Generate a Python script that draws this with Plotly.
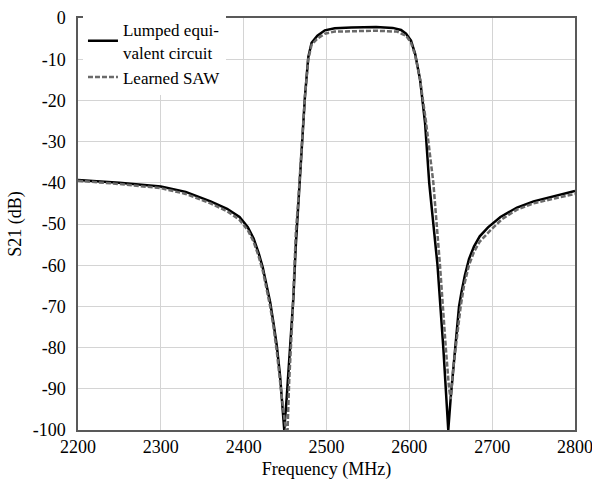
import plotly.graph_objects as go

# Lumped equivalent circuit (solid black)
f_lumped = [2200, 2250, 2300, 2330, 2360, 2380, 2395, 2405, 2412, 2418, 2423, 2428, 2432, 2436, 2440,
            2444, 2447, 2449, 2452, 2456, 2460, 2463, 2466, 2470, 2474, 2478, 2482, 2489, 2498, 2510,
            2530, 2560, 2580, 2590, 2596, 2602, 2607, 2613, 2619, 2624, 2629, 2634, 2641, 2644, 2647,
            2650, 2653, 2656, 2660, 2663, 2667, 2672, 2678, 2685, 2695, 2710, 2730, 2750, 2775, 2800]
s21_lumped = [-39.3, -40.0, -40.9, -42.2, -44.5, -46.3, -48.3, -50.8, -53.5, -57.0, -60.5, -65.0, -69.0, -74.0, -79.5,
              -87.0, -94.0, -100.0, -92.0, -80.0, -68.0, -55.0, -45.0, -32.0, -19.0, -9.5, -6.0, -4.3, -3.0, -2.5,
              -2.3, -2.2, -2.4, -2.9, -3.8, -5.5, -8.7, -15.0, -25.5, -40.0, -50.0, -60.0, -80.0, -90.0, -100.0,
              -92.0, -85.0, -78.0, -70.0, -66.5, -62.5, -58.5, -55.5, -53.0, -50.8, -48.3, -46.0, -44.5, -43.2, -42.0]

# Learned SAW (dashed gray)
f_saw = [2200, 2250, 2300, 2330, 2360, 2380, 2395, 2405, 2412, 2418, 2423, 2428, 2432, 2436, 2440,
         2446, 2451, 2453, 2455, 2459, 2463, 2466, 2470, 2474, 2478, 2482, 2489, 2498, 2510, 2560,
         2585, 2596, 2602, 2607, 2613, 2620, 2629, 2637, 2644, 2648, 2650, 2653, 2656, 2662, 2666,
         2672, 2678, 2685, 2698, 2712, 2730, 2750, 2775, 2800]
s21_saw = [-39.5, -40.3, -41.3, -42.7, -45.0, -46.9, -49.0, -51.5, -54.3, -57.8, -61.3, -66.0, -70.0, -75.0, -81.0,
           -92.0, -100.0, -100.0, -88.0, -72.0, -52.0, -44.0, -31.0, -19.0, -10.0, -6.5, -5.0, -3.8, -3.3, -3.1,
           -3.3, -4.3, -6.0, -9.0, -15.0, -25.0, -40.0, -60.0, -80.0, -90.0, -92.5, -85.0, -80.0, -70.0, -65.0,
           -60.0, -56.8, -54.3, -51.5, -48.8, -46.5, -45.0, -43.8, -42.7]

x_ticks = [2200, 2300, 2400, 2500, 2600, 2700, 2800]
y_ticks = [0, -10, -20, -30, -40, -50, -60, -70, -80, -90, -100]

FONT = "Liberation Serif"
FS = 18

fig = go.Figure()
fig.add_trace(go.Scatter(x=f_lumped, y=s21_lumped, mode="lines",
                         name="Lumped equi-<br>valent circuit",
                         line=dict(color="black", width=2.5)))
fig.add_trace(go.Scatter(x=f_saw, y=s21_saw, mode="lines",
                         name="Learned SAW",
                         line=dict(color="#6a6a6a", width=2.5, dash="5px,2px")))

axis_common = dict(showgrid=True, gridcolor="#d4d4d4", gridwidth=1.3,
                   showline=True, linecolor="#595959", linewidth=1.5, mirror=True,
                   ticks="", zeroline=False, automargin=False,
                   ticklabeloverflow="allow",
                   tickfont=dict(family=FONT, size=FS, color="black"),
                   title_font=dict(family=FONT, size=FS, color="black"))

fig.update_xaxes(range=[2200, 2800], tickvals=x_ticks, ticktext=[str(v) for v in x_ticks],
                 title_text="Frequency (MHz)", title_standoff=6, ticklabelstandoff=0, **axis_common)
fig.update_yaxes(range=[-100, 0], tickvals=y_ticks, ticktext=[str(v) for v in y_ticks],
                 title_text="S21 (dB)", title_standoff=6, ticklabelstandoff=7, **axis_common)

fig.update_layout(
    width=592, height=487,
    margin=dict(l=78, r=17, t=14, b=57),
    paper_bgcolor="white", plot_bgcolor="white",
    font=dict(family=FONT, size=FS, color="black"),
    showlegend=True,
    legend=dict(x=0.010, y=1.014, xanchor="left", yanchor="top",
                bgcolor="rgba(255,255,255,1)", borderwidth=0,
                font=dict(family=FONT, size=17, color="black"),
                tracegroupgap=0, itemwidth=30),
)

fig.write_html("out.html")
